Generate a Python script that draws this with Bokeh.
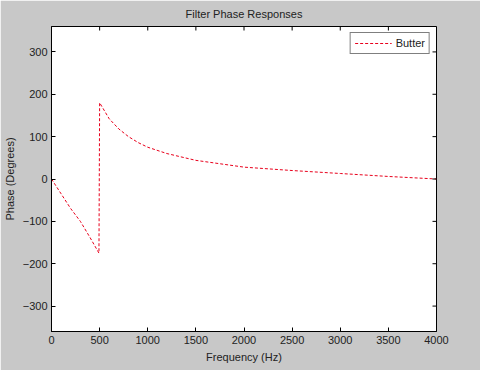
import math
from bokeh.plotting import figure
from bokeh.models import Legend, LegendItem, Range1d, FixedTicker
from bokeh.embed import file_html
from bokeh.resources import INLINE

freq = [0, 100, 200, 300, 400, 493, 500, 600, 700, 800, 900, 1000, 1200, 1500, 2000, 2500, 3000, 3500, 4000]
phase = [0, -35, -70, -100, -138, -175, 180, 142, 118, 100, 86, 75, 60, 44, 28, 20, 13, 6, 0]
x_ticks = [0, 500, 1000, 1500, 2000, 2500, 3000, 3500, 4000]
y_ticks = [-300, -200, -100, 0, 100, 200, 300]
x_min, x_max = 0, 4000
y_min, y_max = -360, 360

FONT = "Liberation Sans"
GRAY = "#c8c8c8"
TXT = "#222222"

p = figure(width=480, height=370, output_backend="svg", toolbar_location=None,
           x_range=Range1d(x_min, x_max), y_range=Range1d(y_min, y_max),
           title="Filter Phase Responses",
           min_border_left=49, min_border_right=44, min_border_top=26, min_border_bottom=39)
p.border_fill_color = GRAY
p.background_fill_color = "white"
p.outline_line_color = "black"
p.grid.visible = False

p.title.align = "center"
p.title.vertical_align = "top"
p.title.text_font = FONT
p.title.text_font_size = "11px"
p.title.text_font_style = "normal"
p.title.text_color = TXT
p.title.standoff = 10

r = p.line(freq, phase, line_color="#e8001c", line_dash="3 2", line_width=1)

for ax in (p.xaxis[0], p.yaxis[0]):
    ax.major_tick_in = 4
    ax.major_tick_out = 0
    ax.minor_tick_in = 0
    ax.minor_tick_out = 0
    ax.axis_line_color = "black"
    ax.major_label_text_font = FONT
    ax.major_label_text_font_size = "11px"
    ax.major_label_text_color = TXT
    ax.axis_label_text_font = FONT
    ax.axis_label_text_font_size = "11px"
    ax.axis_label_text_font_style = "normal"
    ax.axis_label_text_color = TXT
    ax.major_label_standoff = 4
    ax.axis_label_standoff = 4

p.xaxis[0].ticker = FixedTicker(ticks=x_ticks)
p.yaxis[0].ticker = FixedTicker(ticks=y_ticks)
p.xaxis[0].axis_label = "Frequency (Hz)"
p.yaxis[0].axis_label = "Phase (Degrees)"

# inward ticks on the top and right edges of the box (half of each dash is clipped by the frame)
p.scatter([x_max] * len(y_ticks), y_ticks, marker="dash", size=8, line_color="black", line_width=1)
p.scatter(x_ticks, [y_max] * len(x_ticks), marker="dash", size=8, angle=math.pi / 2,
          line_color="black", line_width=1)

legend = Legend(items=[LegendItem(label="Butter", renderers=[r])], location="top_right",
                border_line_color="black", border_line_width=1,
                background_fill_color="white", background_fill_alpha=1,
                label_text_font=FONT, label_text_font_size="11px", label_text_color=TXT,
                glyph_width=37, glyph_height=12, padding=4, margin=6, spacing=0,
                label_standoff=4, label_height=12)
p.add_layout(legend)

open("out.html", "w").write(file_html(p, INLINE))
